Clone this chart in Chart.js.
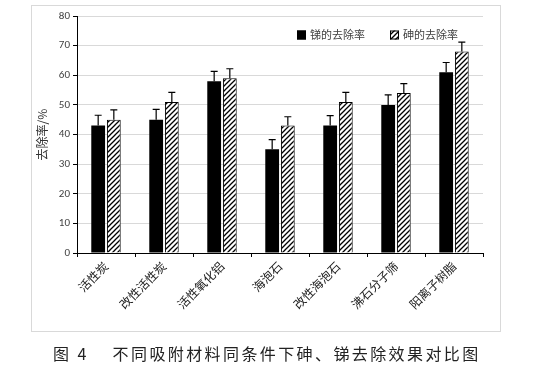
<!DOCTYPE html>
<html>
<head>
<meta charset="utf-8">
<script src="https://cdn.jsdelivr.net/npm/chart.js@4"></script>
<style>
  body { margin: 0; background: #fff; width: 548px; height: 372px; position: relative; overflow: hidden; }
  #wrap { position: absolute; left: 0; top: 0; width: 548px; height: 335px; }
  #frame { position: absolute; left: 31px; top: 5px; width: 468px; height: 325px; border: 1px solid #d9d9d9; pointer-events: none; }
  #caption { position: absolute; left: 53px; top: 343px; font-family: "Noto Sans CJK SC", sans-serif; font-size: 16px; color: #222; letter-spacing: 2.4px; white-space: nowrap; line-height: 20px; }
</style>
</head>
<body>
<div id="wrap"><canvas id="chart" width="548" height="335"></canvas></div>
<div id="frame"></div>
<div id="caption">图 4&nbsp;&nbsp;&nbsp;&nbsp;不同吸附材料同条件下砷、锑去除效果对比图</div>
<script>
// materials
const materials = ['活性炭', '改性活性炭', '活性氧化铝', '海泡石', '改性海泡石', '沸石分子筛', '阳离子树脂'];
// removal rate (%)
const sbRate = [43, 45, 58, 35, 43, 50, 61];
const asRate = [45, 51, 59, 43, 51, 54, 68];
// error bars (upper)
const sbErr = [3.5, 3.5, 3.3, 3.3, 3.4, 3.4, 3.3];
const asErr = [3.3, 3.2, 3.2, 3.0, 3.2, 3.2, 3.2];
const yTicks = [0, 10, 20, 30, 40, 50, 60, 70, 80];

const ctx = document.getElementById('chart').getContext('2d');

// diagonal hatch for the As bars
function makeHatch() {
  const c = document.createElement('canvas');
  c.width = 5; c.height = 5;
  const g = c.getContext('2d');
  g.fillStyle = '#fff';
  g.fillRect(0, 0, 5, 5);
  g.strokeStyle = '#000';
  g.lineWidth = 1.3;
  g.beginPath();
  g.moveTo(-1, 6); g.lineTo(6, -1);
  g.moveTo(-1, 1); g.lineTo(1, -1);
  g.moveTo(4, 6); g.lineTo(6, 4);
  g.stroke();
  return ctx.createPattern(c, 'repeat');
}

const errorBars = {
  id: 'errorBars',
  afterDatasetsDraw(chart) {
    const c = chart.ctx;
    const y = chart.scales.y;
    const errs = [sbErr, asErr];
    c.save();
    c.strokeStyle = '#000';
    c.lineWidth = 1.2;
    chart.data.datasets.forEach((ds, i) => {
      chart.getDatasetMeta(i).data.forEach((bar, j) => {
        const top = y.getPixelForValue(ds.data[j] + errs[i][j]);
        c.beginPath();
        c.moveTo(bar.x, bar.y);
        c.lineTo(bar.x, top);
        c.moveTo(bar.x - 3.5, top);
        c.lineTo(bar.x + 3.5, top);
        c.stroke();
      });
    });
    c.restore();
  }
};

// legend drawn inside the plot, top right
const innerLegend = {
  id: 'innerLegend',
  afterDraw(chart) {
    const c = chart.ctx;
    const a = chart.chartArea;
    const starts = [a.right - 186, a.right - 93];
    const yMid = a.top + 19;
    c.save();
    c.font = '11px "Noto Sans CJK SC", sans-serif';
    c.textBaseline = 'middle';
    chart.data.datasets.forEach((ds, i) => {
      const x = starts[i];
      c.fillStyle = ds.backgroundColor;
      c.fillRect(x, yMid - 4.5, 9, 9);
      c.strokeStyle = '#000';
      c.lineWidth = 1;
      c.strokeRect(x + 0.5, yMid - 4, 8, 8);
      c.fillStyle = '#404040';
      c.fillText(ds.label, x + 13, yMid);
    });
    c.restore();
  }
};

new Chart(ctx, {
  type: 'bar',
  data: {
    labels: materials,
    datasets: [{
      label: '锑的去除率',
      data: sbRate,
      backgroundColor: '#000',
      borderColor: '#000',
      borderWidth: 0
    }, {
      label: '砷的去除率',
      data: asRate,
      backgroundColor: makeHatch(),
      borderColor: '#000',
      borderWidth: 1
    }]
  },
  options: {
    responsive: false,
    animation: false,
    categoryPercentage: 0.54,
    barPercentage: 0.88,
    layout: { padding: { left: 31, right: 65, top: 16, bottom: 0 } },
    plugins: {
      legend: { display: false },
      tooltip: { enabled: false }
    },
    scales: {
      x: {
        afterFit(s) { s.height = 82; },
        border: { color: '#000', width: 1 },
        grid: { offset: true, drawOnChartArea: false, drawTicks: true, tickLength: 4, tickColor: '#000' },
        ticks: {
          minRotation: 45,
          maxRotation: 45,
          color: '#222',
          padding: 2,
          font: { family: '"Noto Sans CJK SC", sans-serif', size: 12 }
        }
      },
      y: {
        min: 0,
        max: 80,
        afterFit(s) { s.width = 46; },
        afterBuildTicks(s) { s.ticks = yTicks.map(v => ({ value: v })); },
        border: { color: '#000', width: 1 },
        grid: { color: '#d9d9d9', tickColor: '#000', tickLength: 4 },
        ticks: {
          color: '#404040',
          padding: 3,
          font: { family: 'Calibri, Carlito, "Liberation Sans", sans-serif', size: 11 }
        },
        title: {
          display: true,
          text: '去除率/%',
          color: '#333',
          padding: { top: 4, bottom: 0 },
          font: { family: '"Noto Sans CJK SC", sans-serif', size: 12 }
        }
      }
    }
  },
  plugins: [errorBars, innerLegend]
});
</script>
</body>
</html>
